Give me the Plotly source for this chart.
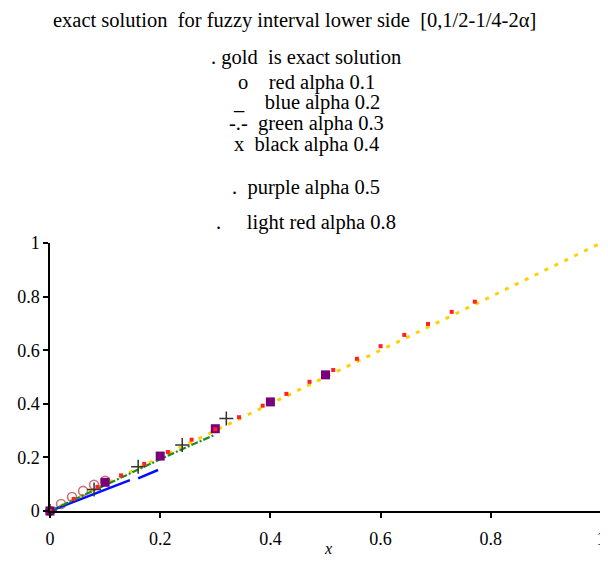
import plotly.graph_objects as go

# ---- data ----
gold_x = [0, 1]
gold_y = [0, 1]

red01_x = [0, 0.02, 0.04, 0.06, 0.08, 0.10]
red01_y = [0, 0.026, 0.052, 0.075, 0.098, 0.113]

blue02_x = [0, 0.05, 0.10, 0.145, None, 0.16, 0.196]
blue02_y = [0, 0.040, 0.080, 0.115, None, 0.122, 0.153]

green03_x = [0, 0.05, 0.10, 0.15, 0.20, 0.25, 0.30]
green03_y = [0, 0.049, 0.097, 0.145, 0.193, 0.240, 0.285]

black04_x = [0, 0.08, 0.16, 0.24, 0.32]
black04_y = [0, 0.080, 0.165, 0.246, 0.345]

purple05_x = [0, 0.1, 0.2, 0.3, 0.4, 0.5]
purple05_y = [0, 0.107, 0.205, 0.307, 0.407, 0.508]

lred08_x = [0, 0.043, 0.086, 0.129, 0.171, 0.214, 0.257, 0.300, 0.343, 0.386,
            0.429, 0.471, 0.514, 0.557, 0.600, 0.643, 0.686, 0.729, 0.771]
lred08_y = [0, 0.045, 0.090, 0.133, 0.176, 0.220, 0.266, 0.305, 0.350, 0.393,
            0.437, 0.482, 0.526, 0.568, 0.615, 0.657, 0.698, 0.743, 0.781]

tick_vals = [0, 0.2, 0.4, 0.6, 0.8, 1]
tick_text = ["0", "0.2", "0.4", "0.6", "0.8", "1"]

title_text = "exact solution\u00a0 for fuzzy interval lower side\u00a0 [0,1/2-1/4-2\u03b1]"
legend_lines = [
    ". gold\u00a0 is exact solution",
    "o\u00a0\u00a0\u00a0 red alpha 0.1",
    "_\u00a0\u00a0\u00a0 blue alpha 0.2",
    "-.-\u00a0 green alpha 0.3",
    "x\u00a0 black alpha 0.4",
    ".\u00a0 purple alpha 0.5",
    ".\u00a0\u00a0\u00a0\u00a0 light red alpha 0.8",
]

FONT = "Liberation Serif"

PLOT_W = 551.0
L_PAD = 42

fig = go.Figure()

fig.add_trace(go.Scatter(x=gold_x, y=gold_y, mode="lines",
                         line=dict(color="#FFD000", width=3, dash="4px,7px"),
                         cliponaxis=False))
fig.add_trace(go.Scatter(x=red01_x, y=red01_y, mode="markers",
                         marker=dict(symbol="circle-open", size=9, color="rgb(200,115,125)",
                                     line=dict(width=1.6)),
                         cliponaxis=False))
fig.add_trace(go.Scatter(x=blue02_x, y=blue02_y, mode="lines",
                         line=dict(color="#0010FF", width=2.5),
                         cliponaxis=False, connectgaps=False))
fig.add_trace(go.Scatter(x=green03_x, y=green03_y, mode="lines",
                         line=dict(color="#1E8C1E", width=2.2, dash="7px,2px,2px,2px"),
                         cliponaxis=False))
fig.add_trace(go.Scatter(x=black04_x, y=black04_y, mode="markers",
                         marker=dict(symbol="cross-thin-open", size=10, color="#333333",
                                     line=dict(width=1.5, color="#333333")),
                         cliponaxis=False))
fig.add_trace(go.Scatter(x=purple05_x, y=purple05_y, mode="markers",
                         marker=dict(symbol="square", size=9, color="#7A007A"),
                         cliponaxis=False))
fig.add_trace(go.Scatter(x=lred08_x, y=lred08_y, mode="markers",
                         marker=dict(symbol="square", size=4, color="#FF2020"),
                         cliponaxis=False))


def px_x(page_x):
    return (page_x - 8 - L_PAD) / PLOT_W


annotations = [dict(text=title_text, xref="paper", yref="paper", x=px_x(294.5),
                    y=(511 - 21) / 268.0,
                    showarrow=False, xanchor="center", yanchor="middle",
                    font=dict(family=FONT, size=20.5, color="black"))]
legend_y_px = [57, 82, 102, 123, 144, 188, 222]
for txt, py in zip(legend_lines, legend_y_px):
    annotations.append(dict(text=txt, xref="paper", yref="paper", x=px_x(306),
                            y=(511 - py) / 268.0, showarrow=False,
                            xanchor="center", yanchor="middle",
                            font=dict(family=FONT, size=20.5, color="black")))
annotations.append(dict(text="<i>x</i>", xref="paper", yref="paper", x=px_x(328),
                        y=(511 - 548) / 268.0, showarrow=False,
                        xanchor="center", yanchor="middle",
                        font=dict(family=FONT, size=16, color="black")))

# page body has an 8px margin, so the figure is 8px smaller than the window
fig.update_layout(
    width=600, height=553,
    margin=dict(l=L_PAD, r=600 - L_PAD - int(PLOT_W), t=235, b=50),
    plot_bgcolor="white", paper_bgcolor="white",
    showlegend=False,
    annotations=annotations,
    font=dict(family=FONT, size=18, color="black"),
)
fig.update_xaxes(range=[0, 1], showgrid=False, zeroline=False, automargin=False,
                 showline=True, linecolor="black", linewidth=1.5,
                 ticks="outside", ticklen=5, tickwidth=1.5, tickcolor="black",
                 tickvals=tick_vals, ticktext=tick_text, ticklabelstandoff=6,
                 ticklabeloverflow="allow")
fig.update_yaxes(range=[0, 1], showgrid=False, zeroline=False, automargin=False,
                 showline=True, linecolor="black", linewidth=1.5,
                 ticks="outside", ticklen=5, tickwidth=1.5, tickcolor="black",
                 tickvals=tick_vals, ticktext=tick_text, ticklabeloverflow="allow")

fig.write_html("out.html")
